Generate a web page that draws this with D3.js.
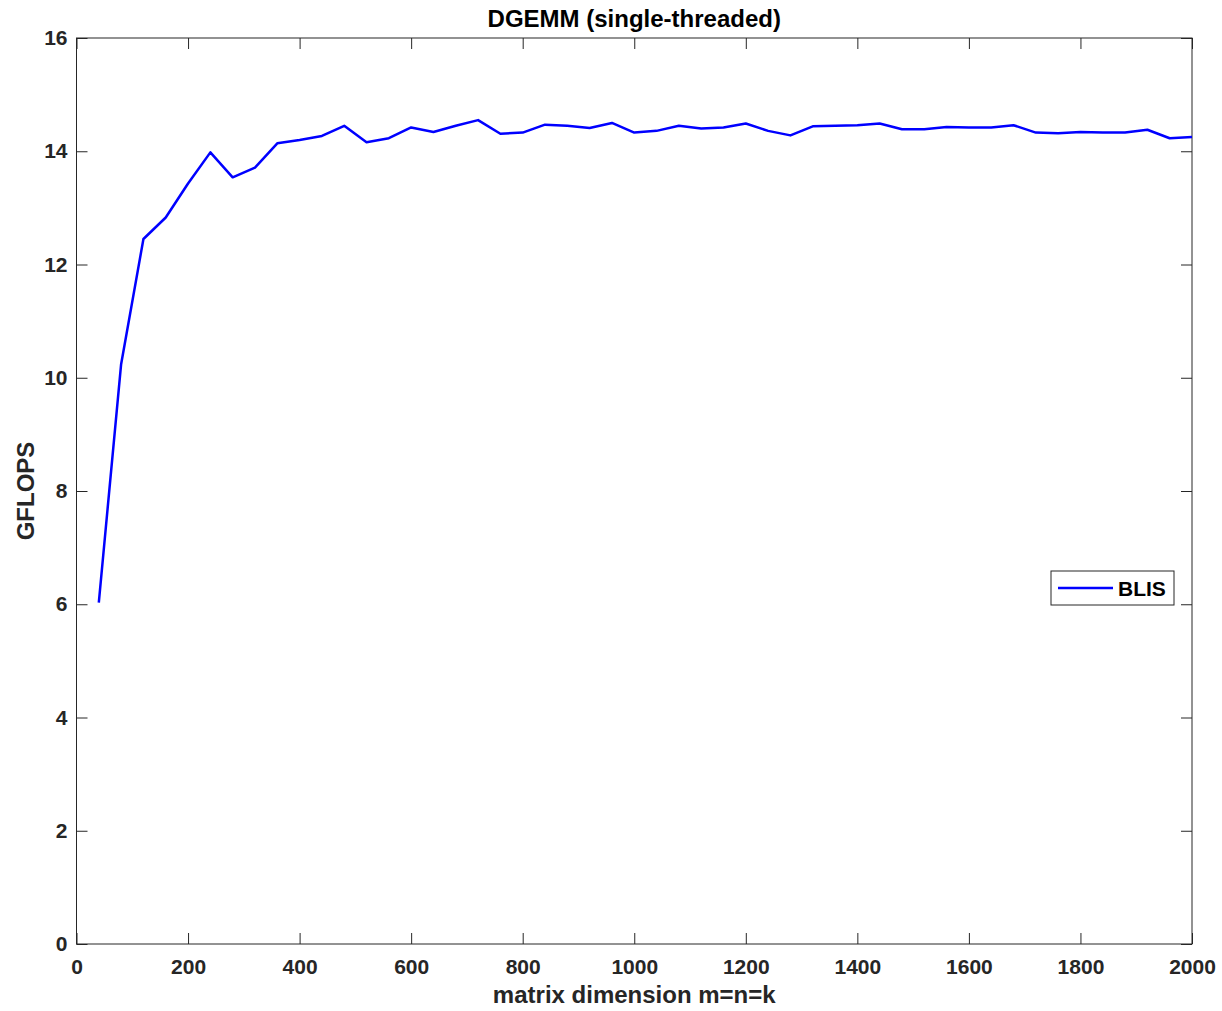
<!DOCTYPE html>
<html>
<head>
<meta charset="utf-8">
<script src="https://cdn.jsdelivr.net/npm/d3@7"></script>
<style>
  body { margin: 0; background: #fff; }
  svg { font-family: "Liberation Sans", Arial, Helvetica, sans-serif; font-weight: bold; }
</style>
</head>
<body>
<svg id="chart" width="1222" height="1011"></svg>
<script>
// matrix sizes (m=n=k)
var sizes = [40, 80, 120, 160, 200, 240, 280, 320, 360, 400,
  440, 480, 520, 560, 600, 640, 680, 720, 760, 800,
  840, 880, 920, 960, 1000, 1040, 1080, 1120, 1160, 1200,
  1240, 1280, 1320, 1360, 1400, 1440, 1480, 1520, 1560, 1600,
  1640, 1680, 1720, 1760, 1800, 1840, 1880, 1920, 1960, 2000];

// BLIS GFLOPS
var blis = [6.03, 10.24, 12.45, 12.83, 13.43, 13.98, 13.54, 13.71, 14.14, 14.20,
  14.27, 14.45, 14.16, 14.23, 14.42, 14.34, 14.45, 14.55, 14.31, 14.33,
  14.47, 14.45, 14.41, 14.50, 14.33, 14.36, 14.45, 14.40, 14.42, 14.49,
  14.36, 14.28, 14.44, 14.45, 14.46, 14.49, 14.39, 14.39, 14.43, 14.42,
  14.42, 14.46, 14.33, 14.32, 14.34, 14.33, 14.33, 14.38, 14.23, 14.25];

var xTicks = [0, 200, 400, 600, 800, 1000, 1200, 1400, 1600, 1800, 2000];
var yTicks = [0, 2, 4, 6, 8, 10, 12, 14, 16];

var margin = { left: 76.5, right: 30, top: 38, bottom: 67 };
var svg = d3.select("#chart");
var W = +svg.attr("width"), H = +svg.attr("height");
var axisColor = "#262626";
var tickLen = 11;

var x = d3.scaleLinear().domain([0, 2000]).range([margin.left, W - margin.right]);
var y = d3.scaleLinear().domain([0, 16]).range([H - margin.bottom, margin.top]);

var x0 = x.range()[0], x1 = x.range()[1];
var y0 = y.range()[0], y1 = y.range()[1];

// axes (MATLAB style, ticks pointing inward, box on)
var gx = svg.append("g").attr("transform", "translate(0," + y0 + ")")
  .call(d3.axisBottom(x).tickValues(xTicks).tickSize(-tickLen).tickPadding(15).tickFormat(d3.format("d")));
var gy = svg.append("g").attr("transform", "translate(" + x0 + ",0)")
  .call(d3.axisLeft(y).tickValues(yTicks).tickSize(-tickLen).tickPadding(9).tickFormat(d3.format("d")));
var gxt = svg.append("g").attr("transform", "translate(0," + y1 + ")")
  .call(d3.axisTop(x).tickValues(xTicks).tickSize(-tickLen).tickFormat(""));
var gyr = svg.append("g").attr("transform", "translate(" + x1 + ",0)")
  .call(d3.axisRight(y).tickValues(yTicks).tickSize(-tickLen).tickFormat(""));

[gx, gy, gxt, gyr].forEach(function (g) {
  g.select(".domain").remove();
  g.selectAll(".tick line").attr("stroke", axisColor).attr("stroke-width", 1);
  g.selectAll(".tick text").attr("fill", axisColor)
    .style("font-size", "21px").style("font-weight", "bold")
    .style("font-family", "'Liberation Sans', Arial, sans-serif");
});

svg.append("rect")
  .attr("x", x0).attr("y", y1)
  .attr("width", x1 - x0).attr("height", y0 - y1)
  .attr("fill", "none").attr("stroke", axisColor).attr("stroke-width", 1);

// data line
var line = d3.line()
  .x(function (d, i) { return x(sizes[i]); })
  .y(function (d) { return y(d); });

svg.append("path")
  .datum(blis)
  .attr("d", line)
  .attr("fill", "none")
  .attr("stroke", "#0000ff")
  .attr("stroke-width", 2.5)
  .attr("stroke-linejoin", "round");

// title and labels
svg.append("text")
  .attr("x", (x0 + x1) / 2).attr("y", 27)
  .attr("text-anchor", "middle")
  .style("font-size", "24px").attr("fill", "#000")
  .text("DGEMM (single-threaded)");

svg.append("text")
  .attr("x", (x0 + x1) / 2).attr("y", 1003)
  .attr("text-anchor", "middle")
  .style("font-size", "24px").attr("fill", axisColor)
  .text("matrix dimension m=n=k");

svg.append("text")
  .attr("transform", "translate(34," + (y0 + y1) / 2 + ") rotate(-90)")
  .attr("text-anchor", "middle")
  .style("font-size", "24px").attr("fill", axisColor)
  .text("GFLOPS");

// legend
var lg = svg.append("g").attr("transform", "translate(1051,571)");
lg.append("rect")
  .attr("width", 123).attr("height", 34)
  .attr("fill", "#fff").attr("stroke", axisColor).attr("stroke-width", 1);
lg.append("line")
  .attr("x1", 7).attr("x2", 62).attr("y1", 17).attr("y2", 17)
  .attr("stroke", "#0000ff").attr("stroke-width", 2.5);
lg.append("text")
  .attr("x", 67).attr("y", 25)
  .style("font-size", "21px").attr("fill", "#000")
  .text("BLIS");
</script>
</body>
</html>
